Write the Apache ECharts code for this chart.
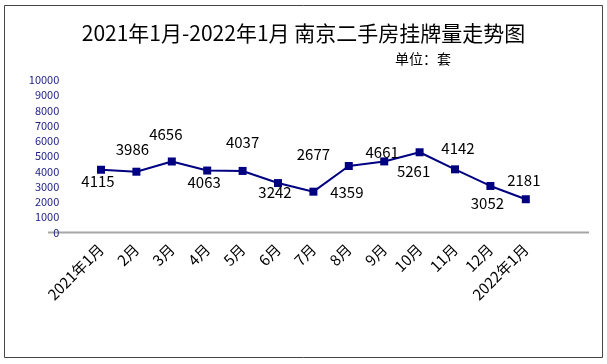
<!DOCTYPE html>
<html><head><meta charset="utf-8">
<script src="https://cdn.jsdelivr.net/npm/echarts@6/dist/echarts.min.js"></script>
<style>html,body{margin:0;padding:0;background:#fff}#c{width:607px;height:364px}</style>
</head><body><div id="c"></div>
<script>
const categories = ['2021年1月','2月','3月','4月','5月','6月','7月','8月','9月','10月','11月','12月','2022年1月'];
const listings = [4115,3986,4656,4063,4037,3242,2677,4359,4661,5261,4142,3052,2181];
const yTicks = {min:0, max:10000, interval:1000};
// label placement (style only)
const labelOffsets = [[-3,12],[-4,-22],[-6,-27],[-3,12],[0,-29],[-3,9],[0,-37],[-2,26],[-2,-9],[-6,19],[3,-21],[-3,17],[-2,-19]];

const FONT = '"Noto Sans CJK SC","Noto Sans",sans-serif';
const chart = echarts.init(document.getElementById('c'), null, {renderer:'canvas'});
chart.setOption({
  animation:false,
  backgroundColor:'#fff',
  title:[
    {text:'2021年1月-2022年1月 南京二手房挂牌量走势图', left:'center', top:18,
     textStyle:{fontSize:21, fontWeight:'normal', color:'#000', fontFamily:FONT}},
    {text:'单位：套', left:390, top:47, textStyle:{fontSize:14, fontWeight:'normal', color:'#000', fontFamily:FONT}}
  ],
  graphic:[
    {type:'rect', shape:{x:4.5,y:5.5,width:598,height:352}, style:{fill:'none', stroke:'#444', lineWidth:1}, z:-1},
    {type:'line', shape:{x1:48,y1:232.5,x2:589,y2:232.5}, style:{stroke:'#a6a6a6', lineWidth:2}, z:-1}
  ],
  grid:{left:83.3, right:63.5, top:80, bottom:131.5, containLabel:false},
  xAxis:{type:'category', data:categories, boundaryGap:true,
    axisLine:{show:false}, axisTick:{show:false},
    axisLabel:{rotate:45, fontSize:15, color:'#000', fontFamily:FONT, margin:14, interval:0}},
  yAxis:{type:'value', min:yTicks.min, max:yTicks.max, interval:yTicks.interval,
    axisLine:{show:false}, axisTick:{show:false}, splitLine:{show:false},
    axisLabel:{fontSize:11, color:'#1c1c8a', fontFamily:FONT, margin:24, formatter:v=>String(v)}},
  series:[{
    type:'line', data:listings.map((v,i)=>({value:v, label:{offset:labelOffsets[i]}})),
    symbol:'rect', symbolSize:8, color:'#000080',
    lineStyle:{color:'#000080', width:2},
    itemStyle:{color:'#000080'},
    label:{show:true, position:'inside', fontSize:15, color:'#000', fontFamily:FONT}
  }]
});
</script></body></html>
